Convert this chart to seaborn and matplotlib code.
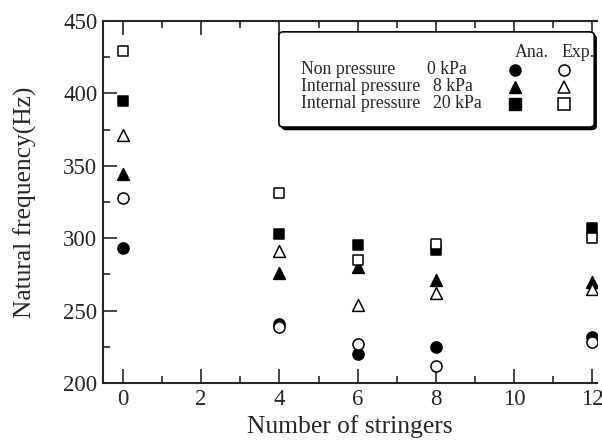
import matplotlib
matplotlib.use("Agg")
import matplotlib.pyplot as plt
import seaborn as sns
import pandas as pd
from matplotlib.patches import FancyBboxPatch
from matplotlib.ticker import MultipleLocator

# ---- data ----
stringers = [0, 4, 6, 8, 12]
ana_0kpa = [293, 241, 220, 225, 232]
exp_0kpa = [328, 239, 227, 212, 228]
ana_8kpa = [344, 276, 280, 271, 270]
exp_8kpa = [371, 291, 254, 262, 265]
ana_20kpa = [395, 303, 295, 292, 307]
exp_20kpa = [429, 331, 285, 296, 300]

legend_rows = ["Non pressure", "Internal pressure", "Internal pressure"]
legend_press = ["0 kPa", "8 kPa", "20 kPa"]

sns.set_style("ticks")
plt.rcParams["font.family"] = ["Liberation Serif", "DejaVu Serif"]

fig = plt.figure(figsize=(6.02, 4.42), dpi=100)
ax = fig.add_axes([0.171, 0.1335, 0.821, 0.819])

series = [
    (ana_0kpa, "o", True, 8.0),
    (exp_0kpa, "o", False, 8.0),
    (ana_8kpa, "^", True, 8.5),
    (exp_8kpa, "^", False, 8.5),
    (ana_20kpa, "s", True, 7.5),
    (exp_20kpa, "s", False, 7.5),
]
for vals, m, filled, ms in series:
    df = pd.DataFrame({"x": stringers, "y": vals})
    sns.scatterplot(data=df, x="x", y="y", marker=m, s=ms**2,
                    facecolor="black" if filled else "white",
                    edgecolor="black", linewidth=1.1, ax=ax, zorder=3)

ax.set_xlim(-0.51, 12.12)
ax.set_ylim(200, 450)
ax.xaxis.set_major_locator(MultipleLocator(2))
ax.xaxis.set_minor_locator(MultipleLocator(1))
ax.yaxis.set_major_locator(MultipleLocator(50))
ax.yaxis.set_minor_locator(MultipleLocator(25))
ax.tick_params(which="both", direction="in", top=True, right=False,
               width=1.2, labelsize=16.5, pad=4)
ax.tick_params(which="major", length=10)
ax.tick_params(which="minor", length=5)
ax.spines["right"].set_visible(False)
for s in ["left", "bottom", "top"]:
    ax.spines[s].set_linewidth(1.5)

ax.set_xlabel("Number of stringers", fontsize=18.4, labelpad=4)
ax.set_ylabel("Natural frequency(Hz)", fontsize=18.4, labelpad=19)

# ---- custom legend box ----
tr = ax.transAxes
shadow = FancyBboxPatch((0.362, 0.700), 0.636, 0.262, boxstyle="round,pad=0,rounding_size=0.01",
                        transform=tr, facecolor="black", edgecolor="black", zorder=4, clip_on=False)
box = FancyBboxPatch((0.356, 0.707), 0.638, 0.263, boxstyle="round,pad=0,rounding_size=0.01",
                     transform=tr, facecolor="white", edgecolor="black", linewidth=1.2,
                     zorder=5, clip_on=False)
ax.add_patch(shadow)
ax.add_patch(box)

def fx(px):
    return (px - 103) / 494.0

def fy(py):
    return (383 - py) / 362.0

fs = 12.8
ax.text(fx(532), fy(53), "Ana.", transform=tr, ha="center", va="center", fontsize=fs, zorder=6)
ax.text(fx(578), fy(53), "Exp.", transform=tr, ha="center", va="center", fontsize=fs, zorder=6)
row_y = [70, 87, 104]
press_x = [427, 433, 433]
marks = ["o", "^", "s"]
for i in range(3):
    ax.text(fx(301), fy(row_y[i]), legend_rows[i], transform=tr, ha="left", va="center",
            fontsize=fs, zorder=6)
    ax.text(fx(press_x[i]), fy(row_y[i]), legend_press[i], transform=tr, ha="left", va="center",
            fontsize=fs, zorder=6)
    ax.plot([fx(515)], [fy(row_y[i])], marker=marks[i], ms=8, mfc="black", mec="black",
            transform=tr, zorder=6, clip_on=False, ls="none")
    ax.plot([fx(564)], [fy(row_y[i])], marker=marks[i], ms=8, mfc="white", mec="black",
            mew=1.1, transform=tr, zorder=6, clip_on=False, ls="none")

fig.savefig("out.png", dpi=100)
